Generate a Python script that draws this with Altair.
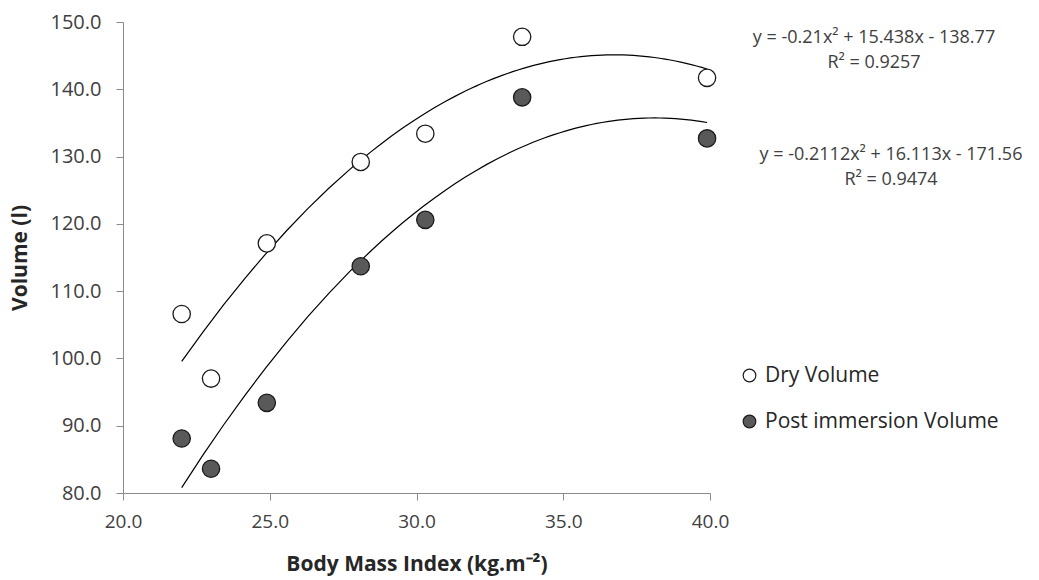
import altair as alt
import pandas as pd

bmi = [22.0, 23.0, 24.9, 28.1, 30.3, 33.6, 39.9]
dry_volume = [106.6, 97.0, 117.1, 129.2, 133.4, 147.8, 141.7]
post_volume = [88.1, 83.6, 93.4, 113.7, 120.6, 138.8, 132.7]
series_names = ["Dry Volume", "Post immersion Volume"]
x_ticks = [20, 25, 30, 35, 40]
y_ticks = [80, 90, 100, 110, 120, 130, 140, 150]
eq_dry = ["y = -0.21x² + 15.438x - 138.77", "R² = 0.9257"]
eq_post = ["y = -0.2112x² + 16.113x - 171.56", "R² = 0.9474"]

rows = []
for b, v in zip(bmi, dry_volume):
    rows.append({"bmi": b, "volume": v, "series": series_names[0]})
for b, v in zip(bmi, post_volume):
    rows.append({"bmi": b, "volume": v, "series": series_names[1]})
df = pd.DataFrame(rows)

FONT = "Open Sans"
AXIS_COLOR = "#8c8c8c"

x_enc = alt.X(
    "bmi:Q",
    scale=alt.Scale(domain=[20, 40], nice=False, zero=False),
    axis=alt.Axis(
        values=x_ticks, format=".1f", title="Body Mass Index (kg.m⁻²)",
        grid=False, domainColor=AXIS_COLOR, tickColor=AXIS_COLOR, tickSize=7,
        labelFlush=False, labelOverlap=False,
        labelPadding=12, labelFontSize=19, labelFont=FONT, labelColor="#404040",
        titleFont=FONT, titleFontSize=21, titleFontWeight="bold", titleColor="#262626",
        titlePadding=22,
    ),
)
y_enc = alt.Y(
    "volume:Q",
    scale=alt.Scale(domain=[80, 150], nice=False, zero=False),
    axis=alt.Axis(
        values=y_ticks, format=".1f", title="Volume (l)",
        grid=False, domainColor=AXIS_COLOR, tickColor=AXIS_COLOR, tickSize=7,
        labelFlush=False, labelOverlap=False,
        labelPadding=15, labelFontSize=20, labelFont=FONT, labelColor="#404040",
        titleFont=FONT, titleFontSize=21, titleFontWeight="bold", titleColor="#262626",
        titlePadding=20,
    ),
)

base = alt.Chart(df)

trend = base.transform_regression(
    "bmi", "volume", method="poly", order=2, groupby=["series"]
).mark_line(color="black", strokeWidth=1.2).encode(
    x=x_enc, y=y_enc, detail="series:N"
)

points = base.mark_circle(size=300, stroke="#1a1a1a", strokeWidth=1.3, opacity=1).encode(
    x=x_enc,
    y=y_enc,
    fill=alt.Fill(
        "series:N",
        scale=alt.Scale(domain=series_names, range=["white", "#595959"]),
        legend=alt.Legend(
            title=None, orient="none", legendX=616, legendY=343,
            symbolType="circle", symbolSize=160, symbolStrokeColor="#1a1a1a",
            symbolStrokeWidth=1.2, labelFont=FONT, labelFontSize=21,
            labelColor="#262626", labelOffset=5, rowPadding=24, padding=0,
            labelLimit=500,
        ),
    ),
)

single = alt.Data(values=[{"k": 0}])

eq1 = alt.Chart(single).mark_text(
    text=eq_dry, font=FONT, fontSize=18, fontWeight="normal", color="#404040",
    align="center", baseline="middle", lineHeight=25,
).encode(x=alt.value(751), y=alt.value(16))

eq2 = alt.Chart(single).mark_text(
    text=eq_post, font=FONT, fontSize=18, fontWeight="normal", color="#404040",
    align="center", baseline="middle", lineHeight=25,
).encode(x=alt.value(768), y=alt.value(133))

chart = alt.layer(trend, points, eq1, eq2).properties(
    width=587,
    height=471,
    autosize=alt.AutoSizeParams(type="none"),
    padding={"left": 123, "top": 22, "right": 329, "bottom": 87},
    background="white",
).configure_view(stroke=None)

chart.save("out.html", embed_options={"renderer": "svg", "actions": False})
